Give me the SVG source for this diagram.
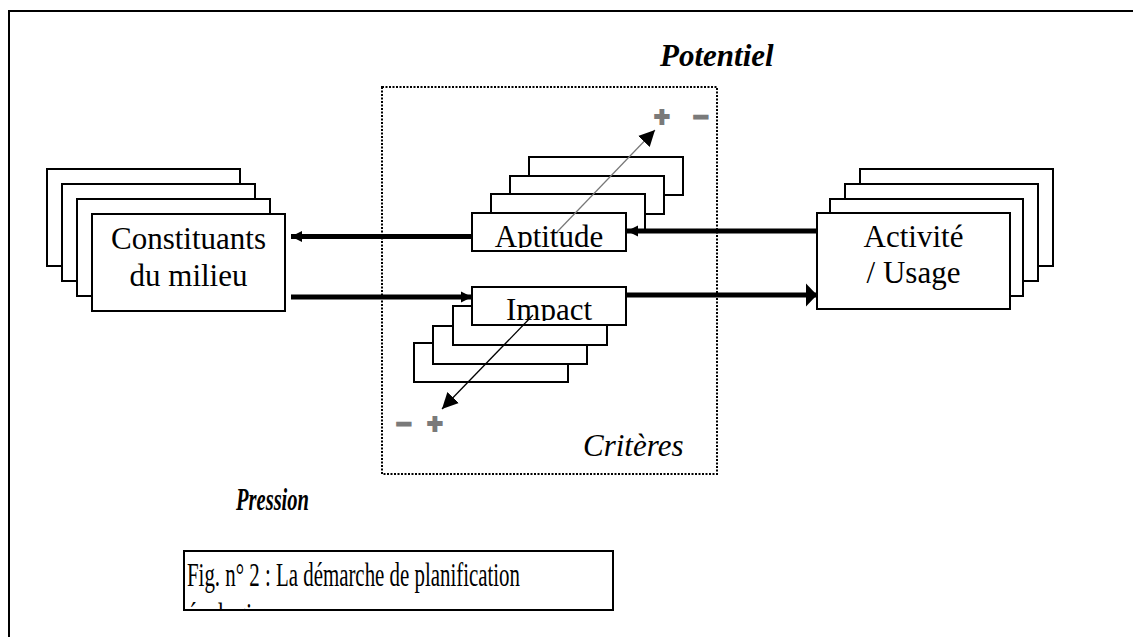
<svg xmlns="http://www.w3.org/2000/svg" width="1133" height="637" viewBox="0 0 1133 637">
<style>
.box{fill:#fff;stroke:#000;stroke-width:2}
.t{font-family:"Liberation Serif","Times New Roman",serif;font-size:31px;fill:#000}
.bi{font-family:"Liberation Serif","Times New Roman",serif;font-size:31px;font-weight:bold;font-style:italic;fill:#000}
.it{font-family:"Liberation Serif","Times New Roman",serif;font-size:31px;font-style:italic;fill:#000}
.sign{font-family:"Liberation Sans",Arial,sans-serif;font-size:27px;font-weight:bold;fill:#7a7a7a;stroke:#7a7a7a;stroke-width:1.8}
.thick{stroke:#000;stroke-width:5;fill:none}
</style>
<defs>
<marker id="hs" markerUnits="userSpaceOnUse" markerWidth="12" markerHeight="12" refX="11" refY="6" orient="auto"><path d="M0,0.5 L11,6 L0,11.5 Z" fill="#000"/></marker>
<marker id="hb" markerUnits="userSpaceOnUse" markerWidth="12" markerHeight="24" refX="11" refY="12" orient="auto"><path d="M0,0.5 L11,12 L0,23.5 Z" fill="#000"/></marker>
<marker id="hd" markerUnits="userSpaceOnUse" markerWidth="18" markerHeight="18" refX="16" refY="9" orient="auto"><path d="M0,1 L16,9 L0,17 Z" fill="#000"/></marker>
<clipPath id="capclip"><rect x="185" y="551" width="428" height="58"/></clipPath>
<clipPath id="aptclip"><rect x="473" y="214" width="152" height="34"/></clipPath>
<clipPath id="impclip"><rect x="473" y="288" width="152" height="33"/></clipPath>
</defs>

<path d="M9,637 V11 H1133" fill="none" stroke="#000" stroke-width="2"/>

<rect id="criteres-frame" x="382" y="87" width="335" height="387" fill="none" stroke="#000" stroke-width="2" stroke-dasharray="2,1.5"/>

<g id="constituants">
<rect class="box" x="47" y="169" width="193" height="97"/>
<rect class="box" x="62" y="184" width="193" height="97"/>
<rect class="box" x="77" y="199" width="193" height="97"/>
<rect class="box" x="92" y="214" width="193" height="97"/>
<text class="t" x="188.5" y="249" text-anchor="middle">Constituants</text>
<text class="t" x="188.5" y="286" text-anchor="middle">du milieu</text>
</g>

<g id="activite">
<rect class="box" x="860" y="169" width="193" height="97"/>
<rect class="box" x="845" y="184" width="193" height="97"/>
<rect class="box" x="830" y="199" width="193" height="97"/>
<rect class="box" x="817" y="213" width="193" height="96"/>
<text class="t" x="913.5" y="247" text-anchor="middle">Activité</text>
<text class="t" x="913.5" y="283" text-anchor="middle">/ Usage</text>
</g>

<g id="aptitude">
<rect class="box" x="529" y="157" width="154" height="38"/>
<rect class="box" x="510" y="176" width="154" height="38"/>
<rect class="box" x="491" y="194" width="154" height="38"/>
<rect class="box" x="472" y="213" width="154" height="38"/>
<text class="t" x="549" y="247" text-anchor="middle" clip-path="url(#aptclip)">Aptitude</text>
</g>

<g id="impact">
<rect class="box" x="414" y="343" width="154" height="39"/>
<rect class="box" x="433" y="326" width="154" height="38"/>
<rect class="box" x="453" y="306" width="154" height="39"/>
<rect class="box" x="472" y="287" width="154" height="38"/>
<text class="t" x="549" y="320" text-anchor="middle" clip-path="url(#impclip)">Impact</text>
</g>

<g id="connectors">
<line class="thick" x1="472" y1="236.5" x2="291" y2="236.5" marker-end="url(#hs)"/>
<line class="thick" x1="291" y1="297" x2="472" y2="297" marker-end="url(#hs)"/>
<line class="thick" x1="817" y1="231" x2="627" y2="231" marker-end="url(#hs)"/>
<line class="thick" x1="626" y1="295" x2="817" y2="295" marker-end="url(#hb)"/>
<line x1="557" y1="232" x2="655" y2="130" stroke="#777" stroke-width="1.2" marker-end="url(#hd)"/>
<line x1="533" y1="315" x2="442" y2="409" stroke="#000" stroke-width="1.3" marker-end="url(#hd)"/>
</g>

<g id="signs">
<text class="sign" x="662" y="126" text-anchor="middle">+</text>
<text class="sign" x="701" y="126" text-anchor="middle">−</text>
<text class="sign" x="404" y="433" text-anchor="middle">−</text>
<text class="sign" x="435" y="433" text-anchor="middle">+</text>
</g>

<text class="bi" x="660" y="66">Potentiel</text>
<text class="bi" x="236" y="510" textLength="73" lengthAdjust="spacingAndGlyphs" style="font-size:32px">Pression</text>
<text class="it" x="583" y="456">Critères</text>

<g id="caption">
<rect x="184" y="551" width="429" height="59" fill="#fff" stroke="#000" stroke-width="2"/>
<g clip-path="url(#capclip)">
<text class="t" x="187" y="586" textLength="333" lengthAdjust="spacingAndGlyphs" style="font-size:34px">Fig. n° 2 : La démarche de planification</text>
<text class="t" x="187" y="626" style="font-size:34px" textLength="97" lengthAdjust="spacingAndGlyphs">écologique</text>
</g>
</g>
</svg>
